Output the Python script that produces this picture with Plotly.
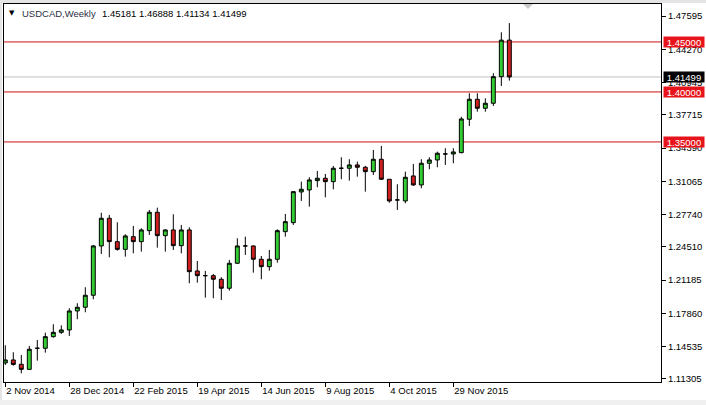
import pandas as pd
import plotly.graph_objects as go

# ---- data ----
start_week = "2014-11-02"
n_weeks = 64
opens = [1.1290, 1.1320, 1.1277, 1.1226, 1.1437, 1.1437, 1.1553, 1.1596, 1.1620, 1.1810,
         1.1847, 1.1967, 1.2460, 1.2737, 1.2503, 1.2426, 1.2553, 1.2503, 1.2613, 1.2797,
         1.2563, 1.2620, 1.2463, 1.2620, 1.2210, 1.2163, 1.2163, 1.2127, 1.2037, 1.2287,
         1.2460, 1.2460, 1.2327, 1.2253, 1.2327, 1.2603, 1.2693, 1.3000, 1.3020, 1.3113,
         1.3137, 1.3103, 1.3237, 1.3237, 1.3270, 1.3247, 1.3203, 1.3327, 1.3127, 1.2920,
         1.2910, 1.3160, 1.3070, 1.3287, 1.3320, 1.3380, 1.3380, 1.3393, 1.3727, 1.3927,
         1.3837, 1.3887, 1.4153, 1.45181]
highs = [1.1467, 1.1397, 1.1370, 1.1460, 1.1520, 1.1593, 1.1677, 1.1666, 1.1837, 1.1887,
         1.2047, 1.2470, 1.2792, 1.2770, 1.2697, 1.2577, 1.2660, 1.2637, 1.2820, 1.2843,
         1.2627, 1.2777, 1.2670, 1.2647, 1.2310, 1.2210, 1.2180, 1.2147, 1.2320, 1.2537,
         1.2553, 1.2465, 1.2360, 1.2420, 1.2627, 1.2780, 1.3010, 1.3103, 1.3147, 1.3210,
         1.3180, 1.3260, 1.3347, 1.3327, 1.3303, 1.3260, 1.3420, 1.3460, 1.3127, 1.3077,
         1.3203, 1.3280, 1.3327, 1.3347, 1.3403, 1.3437, 1.3437, 1.3752, 1.3987, 1.3987,
         1.3937, 1.4187, 1.4597, 1.46888]
lows = [1.1270, 1.1263, 1.1186, 1.1220, 1.1313, 1.1393, 1.1543, 1.1580, 1.1560, 1.1727,
        1.1797, 1.1927, 1.2380, 1.2347, 1.2413, 1.2353, 1.2387, 1.2403, 1.2570, 1.2443,
        1.2403, 1.2420, 1.2387, 1.2087, 1.2093, 1.1943, 1.1937, 1.1920, 1.2013, 1.2280,
        1.2370, 1.2193, 1.2127, 1.2213, 1.2293, 1.2553, 1.2670, 1.2910, 1.2853, 1.3047,
        1.2947, 1.3027, 1.3127, 1.3113, 1.3153, 1.3003, 1.3170, 1.3120, 1.2893, 1.2820,
        1.2887, 1.3060, 1.3037, 1.3227, 1.3247, 1.3270, 1.3287, 1.3387, 1.3660, 1.3803,
        1.3803, 1.3860, 1.4060, 1.41134]
closes = [1.1320, 1.1275, 1.1226, 1.1427, 1.1437, 1.1553, 1.1596, 1.1620, 1.1810, 1.1847,
          1.1967, 1.2460, 1.2737, 1.2503, 1.2426, 1.2560, 1.2503, 1.2620, 1.2797, 1.2563,
          1.2620, 1.2463, 1.2620, 1.2203, 1.2163, 1.2163, 1.2127, 1.2037, 1.2287, 1.2460,
          1.2460, 1.2327, 1.2253, 1.2327, 1.2613, 1.2703, 1.3003, 1.3027, 1.3120, 1.3137,
          1.3103, 1.3237, 1.3237, 1.3270, 1.3247, 1.3203, 1.3327, 1.3127, 1.2910, 1.2920,
          1.3147, 1.3070, 1.3287, 1.3320, 1.3387, 1.3380, 1.3400, 1.3730, 1.3927, 1.3837,
          1.3887, 1.4153, 1.4518, 1.41499]

y_tick_values = [1.47595, 1.44270, 1.40945, 1.37715, 1.34390, 1.31065, 1.27740,
                 1.24510, 1.21185, 1.17860, 1.14535, 1.11305]
x_tick_labels = ["2 Nov 2014", "28 Dec 2014", "22 Feb 2015", "19 Apr 2015",
                 "14 Jun 2015", "9 Aug 2015", "4 Oct 2015", "29 Nov 2015"]
level_lines = [1.45, 1.40, 1.35]
bid_price = 1.41499
title_symbol = "USDCAD,Weekly"
title_ohlc = "1.45181 1.46888 1.41134 1.41499"

# ---- figure ----
W, H = 706, 405
ML, MR, MT, MB = 4, 45, 4, 23
PW, PH = W - ML - MR, H - MT - MB
FONT = "Liberation Sans, Arial, sans-serif"

dates = pd.date_range(start_week, periods=n_weeks, freq="7D")
t0 = pd.Timestamp(start_week)
x_range = [t0 - pd.Timedelta(days=1.14), t0 + pd.Timedelta(days=573.7)]

fig = go.Figure()
fig.add_trace(go.Candlestick(
    x=dates, open=opens, high=highs, low=lows, close=closes,
    increasing=dict(line=dict(color="black", width=1), fillcolor="#33cc33"),
    decreasing=dict(line=dict(color="black", width=1), fillcolor="#cc1f1f"),
    whiskerwidth=0, hoverinfo="skip", showlegend=False,
))

def px_to_paper_x(px):
    return (px - ML) / PW

def px_to_paper_y(py):
    return 1 - (py - MT) / PH

shapes = []
for v in level_lines:
    shapes.append(dict(type="line", xref="paper", yref="y", x0=0, x1=1, y0=v, y1=v,
                       line=dict(color="#cc1010", width=1), layer="below"))
shapes.append(dict(type="line", xref="paper", yref="y", x0=0, x1=1, y0=bid_price, y1=bid_price,
                   line=dict(color="#c0c0c0", width=1), layer="below"))
# window chrome strips
gray = "#e4e4e4"
shapes.append(dict(type="rect", xref="paper", yref="paper",
                   x0=px_to_paper_x(0), x1=px_to_paper_x(W), y0=px_to_paper_y(0), y1=px_to_paper_y(3),
                   fillcolor=gray, line=dict(width=0), layer="below"))
shapes.append(dict(type="rect", xref="paper", yref="paper",
                   x0=px_to_paper_x(0), x1=px_to_paper_x(2), y0=px_to_paper_y(0), y1=px_to_paper_y(H),
                   fillcolor=gray, line=dict(width=0), layer="below"))
shapes.append(dict(type="rect", xref="paper", yref="paper",
                   x0=px_to_paper_x(0), x1=px_to_paper_x(W), y0=px_to_paper_y(400), y1=px_to_paper_y(H),
                   fillcolor="#f0f0f0", line=dict(width=0), layer="below"))
# chart shift marker
tri = [(523, 4), (533, 4), (528, 9)]
path = "M " + " L ".join(f"{px_to_paper_x(a)},{px_to_paper_y(b)}" for a, b in tri) + " Z"
shapes.append(dict(type="path", xref="paper", yref="paper", path=path,
                   fillcolor="#c8c8c8", line=dict(width=0)))

annotations = []
for v in level_lines:
    annotations.append(dict(xref="paper", yref="y", x=1, y=v, xanchor="left", yanchor="middle",
                            xshift=2, text=f"{v:.5f}", showarrow=False, bgcolor="#e8141b",
                            width=40, height=10, borderpad=0, align="center",
                            font=dict(family=FONT, size=9.5, color="white")))
annotations.append(dict(xref="paper", yref="y", x=1, y=bid_price, xanchor="left", yanchor="middle",
                        xshift=2, text=f"{bid_price:.5f}", showarrow=False, bgcolor="#000000",
                        width=40, height=10, borderpad=0, align="center",
                        font=dict(family=FONT, size=9.5, color="white")))
annotations.append(dict(xref="paper", yref="paper", x=0, y=1, xanchor="left", yanchor="middle",
                        xshift=7 - ML, yshift=-(13 - MT), text="▼", showarrow=False,
                        font=dict(family="DejaVu Sans", size=7, color="black")))
annotations.append(dict(xref="paper", yref="paper", x=0, y=1, xanchor="left", yanchor="middle",
                        xshift=20 - ML, yshift=-(13 - MT), text=title_symbol, showarrow=False,
                        font=dict(family=FONT, size=9.5, color="#2a2f45")))
annotations.append(dict(xref="paper", yref="paper", x=0, y=1, xanchor="left", yanchor="middle",
                        xshift=100 - ML, yshift=-(13 - MT), text=title_ohlc, showarrow=False,
                        font=dict(family=FONT, size=9.5, color="black")))

fig.update_layout(
    width=W, height=H,
    margin=dict(l=ML, r=MR, t=MT, b=MB, pad=0),
    paper_bgcolor="white", plot_bgcolor="white",
    shapes=shapes, annotations=annotations,
    font=dict(family=FONT, size=9.5, color="black"),
    showlegend=False,
)
fig.update_xaxes(
    type="date", range=x_range, rangeslider=dict(visible=False),
    tickvals=list(dates[::8][:len(x_tick_labels)]), ticktext=x_tick_labels,
    ticks="outside", ticklen=4, tickcolor="black", tickwidth=1,
    ticklabelposition="outside right",
    showgrid=False, zeroline=False, showline=True, mirror=True,
    linecolor="black", linewidth=1,
    tickfont=dict(family=FONT, size=9.5, color="black"),
)
fig.update_yaxes(
    side="right", range=[1.10995, 1.48795],
    tickvals=y_tick_values, ticktext=[f"{v:.5f}" for v in y_tick_values],
    ticks="outside", ticklen=4, tickcolor="black", tickwidth=1,
    showgrid=False, zeroline=False, showline=True, mirror=True,
    linecolor="black", linewidth=1,
    tickfont=dict(family=FONT, size=9.5, color="black"),
)

fig.write_html(
    "out.html",
    config={"displayModeBar": False},
    post_script="document.body.style.margin='0';document.body.style.overflow='hidden';",
)
